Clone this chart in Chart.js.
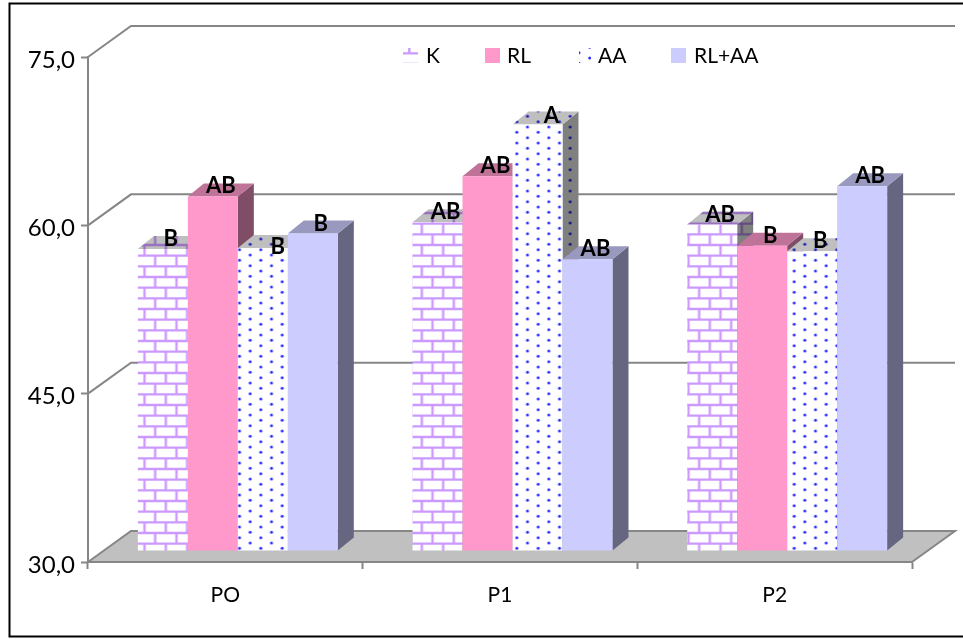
<!DOCTYPE html>
<html>
<head>
<meta charset="utf-8">
<style>
  body { margin: 0; background: #fff; }
  #wrap { width: 963px; height: 639px; }
</style>
<script src="https://cdn.jsdelivr.net/npm/chart.js@4"></script>
</head>
<body>
<div id="wrap"><canvas id="chart" width="963" height="639"></canvas></div>
<script>
// datos
const categories = ['PO', 'P1', 'P2'];
const yTickLabels = ['30,0', '45,0', '60,0', '75,0'];
const valuesK = [56.9, 59.3, 59.1];
const valuesRL = [61.6, 63.4, 57.2];
const valuesAA = [57.0, 68.0, 56.7];
const valuesRLAA = [58.3, 56.0, 62.5];
const lettersK = ['B', 'AB', 'AB'];
const lettersRL = ['AB', 'AB', 'B'];
const lettersAA = ['B', 'A', 'B'];
const lettersRLAA = ['B', 'AB', 'AB'];

const FONT = 'Lato, "Open Sans", sans-serif';
const AXIS = '#868686';
// desplazamiento de la pared del fondo y de las barras dentro del suelo
const WALL = { dx: 43, dy: -31 };
const BAR_SHIFT = { dx: 12.5, dy: -11 };
const DEPTH = { dx: 16, dy: -13 };
// posicion de cada entrada de la leyenda
const LEGEND_SWATCH = [403, 485, 579, 671];
const LEGEND_TEXT = [426, 507, 598, 694];

// tramas de ladrillo y de puntos, con el mismo tile para frente, techo y lado
function tile(bg, paint) {
    const c = document.createElement('canvas');
    c.width = 64;
    c.height = 64;
    const g = c.getContext('2d');
    g.fillStyle = bg;
    g.fillRect(0, 0, 64, 64);
    g.filter = 'blur(0.55px)';
    paint(g);
    return c;
}

function brick(bg, fg) {
    return tile(bg, g => {
        g.strokeStyle = fg;
        g.lineWidth = 2.4;
        const h = 64 / 6, w = 64 / 3;
        for (let r = -1; r < 8; r++) {
            g.beginPath();
            g.moveTo(-8, r * h);
            g.lineTo(72, r * h);
            g.stroke();
            for (let k = -1; k < 5; k++) {
                const x = k * w + (r % 2 ? w / 2 : 0) + 4;
                g.beginPath();
                g.moveTo(x, r * h);
                g.lineTo(x, (r + 1) * h);
                g.stroke();
            }
        }
    });
}

function dots(bg, fg) {
    return tile(bg, g => {
        g.fillStyle = fg;
        const h = 64 / 6, w = 64 / 3;
        for (let r = -1; r < 8; r++) {
            for (let k = -1; k < 8; k++) {
                const x = 3 + k * w / 2;
                const y = (k % 2 ? 4.7 : 10) + r * h;
                g.beginPath();
                g.arc(x, y, 1.5, 0, Math.PI * 2);
                g.fill();
            }
        }
    });
}

const ctxChart = document.getElementById('chart').getContext('2d');
const pat = c => ctxChart.createPattern(c, 'repeat');

const faces = [
    { front: pat(brick('#ffffff', '#cc99ff')), top: pat(brick('#bfbfbf', '#9973bf')), side: pat(brick('#808080', '#664d80')) },
    { front: '#ff99cc', top: '#bf7399', side: '#804d66' },
    { front: pat(dots('#ffffff', '#3333ff')), top: pat(dots('#bfbfbf', '#2626bf')), side: pat(dots('#808080', '#1a1a80')) },
    { front: '#ccccff', top: '#9999bf', side: '#666680' }
];

const letters = [lettersK, lettersRL, lettersAA, lettersRLAA];

function poly(ctx, pts, fill) {
    ctx.beginPath();
    pts.forEach((p, i) => i ? ctx.lineTo(p[0], p[1]) : ctx.moveTo(p[0], p[1]));
    ctx.closePath();
    ctx.fillStyle = fill;
    ctx.fill();
}

const fake3d = {
    id: 'fake3d',
    // marco, pared con lineas de division y suelo
    beforeDraw(chart) {
        const { ctx, chartArea: a, scales } = chart;
        ctx.save();
        ctx.strokeStyle = '#000';
        ctx.lineWidth = 2;
        ctx.strokeRect(9.5, 3.5, 970, 633);

        ctx.strokeStyle = AXIS;
        [45, 60, 75].forEach(v => {
            const y = scales.y.getPixelForValue(v);
            ctx.beginPath();
            ctx.moveTo(a.left, y);
            ctx.lineTo(a.left + WALL.dx, y + WALL.dy);
            ctx.lineTo(a.right + WALL.dx, y + WALL.dy);
            ctx.stroke();
        });

        const b = a.bottom;
        const floor = [[a.left, b], [a.right, b], [a.right + WALL.dx, b + WALL.dy], [a.left + WALL.dx, b + WALL.dy]];
        poly(ctx, floor, '#c0c0c0');
        ctx.beginPath();
        ctx.moveTo(a.left, b);
        ctx.lineTo(floor[3][0], floor[3][1]);
        ctx.lineTo(floor[2][0], floor[2][1]);
        ctx.lineTo(floor[1][0], floor[1][1]);
        ctx.stroke();
        ctx.restore();
    },
    // barras de izquierda a derecha: lado y techo, luego el frente de la libreria
    beforeDatasetsDraw(chart) {
        const { ctx } = chart;
        ctx.save();
        ctx.translate(BAR_SHIFT.dx, BAR_SHIFT.dy);
        chart.data.datasets.forEach((ds, i) => {
            const meta = chart.getDatasetMeta(i);
            meta.data.forEach(bar => {
                const l = bar.x - bar.width / 2, r = bar.x + bar.width / 2;
                const dx = DEPTH.dx, dy = DEPTH.dy;
                poly(ctx, [[r, bar.y], [r + dx, bar.y + dy], [r + dx, bar.base + dy], [r, bar.base]], faces[i].side);
                poly(ctx, [[l, bar.y], [l + dx, bar.y + dy], [r + dx, bar.y + dy], [r, bar.y]], faces[i].top);
            });
            meta.controller.draw();
        });
        ctx.restore();
        return false;
    },
    // letras y leyenda encima de todo
    afterDraw(chart) {
        const { ctx } = chart;
        ctx.save();
        ctx.fillStyle = '#000';
        ctx.textAlign = 'center';
        ctx.textBaseline = 'middle';
        ctx.font = 'bold 22px ' + FONT;
        chart.data.datasets.forEach((ds, i) => {
            chart.getDatasetMeta(i).data.forEach((bar, j) => {
                const off = letterShift(i, j);
                ctx.fillText(letters[i][j], bar.x + BAR_SHIFT.dx + off[0], bar.y + BAR_SHIFT.dy + off[1]);
            });
        });

        ctx.font = '21px ' + FONT;
        ctx.textAlign = 'left';
        chart.data.datasets.forEach((ds, i) => {
            ctx.fillStyle = faces[i].front;
            ctx.fillRect(LEGEND_SWATCH[i], 48, i === 2 ? 12 : 15, 15);
            ctx.fillStyle = '#000';
            ctx.fillText(ds.label, LEGEND_TEXT[i], 56);
        });
        ctx.restore();
    }
};

// la letra B de AA en PO queda mas baja y a la derecha en el original
function letterShift(i, j) {
    if (i === 2 && j === 0) return [15, -1];
    if (i === 2 && j === 1) return [14, -9];
    return [8, -10];
}

new Chart(ctxChart, {
    type: 'bar',
    data: {
        labels: categories,
        datasets: [
            { label: 'K', data: valuesK, backgroundColor: faces[0].front },
            { label: 'RL', data: valuesRL, backgroundColor: faces[1].front },
            { label: 'AA', data: valuesAA, backgroundColor: faces[2].front },
            { label: 'RL+AA', data: valuesRLAA, backgroundColor: faces[3].front }
        ]
    },
    options: {
        responsive: false,
        animation: false,
        base: 30,
        categoryPercentage: 0.728,
        barPercentage: 1,
        layout: { padding: { top: 57, right: 51, left: 0, bottom: 0 } },
        plugins: { legend: { display: false }, tooltip: { enabled: false } },
        scales: {
            x: {
                afterFit: s => { s.height = 77; },
                border: { color: AXIS, width: 2 },
                grid: { drawOnChartArea: false, tickLength: 7, tickColor: AXIS, tickWidth: 2 },
                ticks: { color: '#000', font: { family: FONT, size: 21 }, padding: 14, maxRotation: 0 }
            },
            y: {
                min: 30,
                max: 75,
                afterFit: s => { s.width = 88; },
                border: { color: AXIS, width: 2 },
                grid: { drawOnChartArea: false, tickLength: 7, tickColor: AXIS, tickWidth: 2 },
                ticks: {
                    stepSize: 15,
                    color: '#000',
                    font: { family: FONT, size: 24 },
                    padding: 6,
                    labelOffset: 3,
                    callback: (v, i) => yTickLabels[i]
                }
            }
        }
    },
    plugins: [fake3d]
});
</script>
</body>
</html>
